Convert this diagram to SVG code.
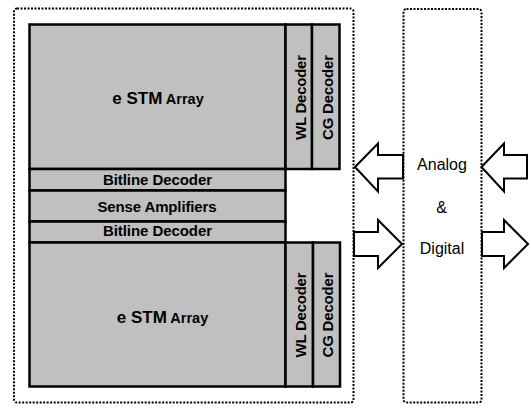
<svg xmlns="http://www.w3.org/2000/svg" width="531" height="408" viewBox="0 0 531 408">
<style>
.blk{fill:#c0c0c0;stroke:#000;stroke-width:2.5}
.dot{fill:none;stroke:#000;stroke-width:2;stroke-dasharray:2 1.5}
.arr{fill:#fff;stroke:#000;stroke-width:2;stroke-linejoin:miter}
.b{font-family:"Liberation Sans",Arial,sans-serif;font-weight:bold;fill:#000}
.r{font-family:"Liberation Sans",Arial,sans-serif;font-size:16px;fill:#000;text-anchor:middle}
</style>
<rect x="0" y="0" width="531" height="408" fill="#fff"/>
<g id="memory-block">
  <rect class="dot" x="14" y="8.5" width="339.5" height="394" rx="3"/>
</g>
<g id="analog-digital">
  <rect class="dot" x="403.5" y="9" width="78" height="393.5" rx="3"/>
  <text class="r" x="442" y="170">Analog</text>
  <text class="r" x="441.5" y="213">&amp;</text>
  <text class="r" x="442" y="253.5">Digital</text>
</g>
<g id="array-top">
  <rect class="blk" x="29.5" y="24.5" width="256" height="144.5"/>
  <text class="b" x="158" y="104" text-anchor="middle"><tspan font-size="17">e STM</tspan><tspan font-size="14.5"> Array</tspan></text>
</g>
<g id="wl-decoder-top">
  <rect class="blk" x="285.5" y="24.5" width="26.5" height="144.5"/>
  <text class="b" font-size="15" text-anchor="middle" transform="translate(305.5 97.5) rotate(-90)" textLength="85">WL Decoder</text>
</g>
<g id="cg-decoder-top">
  <rect class="blk" x="312" y="24.5" width="27.5" height="144.5"/>
  <text class="b" font-size="15" text-anchor="middle" transform="translate(332.5 97.5) rotate(-90)" textLength="85">CG Decoder</text>
</g>
<g id="bitline-decoder-top">
  <rect class="blk" x="29.5" y="169" width="256" height="21.5"/>
  <text class="b" font-size="15" x="157.5" y="185" text-anchor="middle" textLength="109">Bitline Decoder</text>
</g>
<g id="sense-amplifiers">
  <rect class="blk" x="29.5" y="190.5" width="256" height="31"/>
  <text class="b" font-size="15" x="157" y="211.5" text-anchor="middle" textLength="119">Sense Amplifiers</text>
</g>
<g id="bitline-decoder-bottom">
  <rect class="blk" x="29.5" y="221.5" width="256" height="21"/>
  <text class="b" font-size="15" x="157.5" y="236" text-anchor="middle" textLength="109">Bitline Decoder</text>
</g>
<g id="array-bottom">
  <rect class="blk" x="29.5" y="242.5" width="256" height="144"/>
  <text class="b" x="162.5" y="323" text-anchor="middle"><tspan font-size="17">e STM</tspan><tspan font-size="14.5"> Array</tspan></text>
</g>
<g id="wl-decoder-bottom">
  <rect class="blk" x="285.5" y="242.5" width="27.5" height="144"/>
  <text class="b" font-size="15" text-anchor="middle" transform="translate(305.5 315) rotate(-90)" textLength="85">WL Decoder</text>
</g>
<g id="cg-decoder-bottom">
  <rect class="blk" x="313" y="242.5" width="27" height="144"/>
  <text class="b" font-size="15" text-anchor="middle" transform="translate(333 315) rotate(-90)" textLength="85">CG Decoder</text>
</g>
<g id="connectors">
  <polygon class="arr" points="355,167 378,143.5 378,155 403,155 403,178.5 378,178.5 378,191.5"/>
  <polygon class="arr" points="354,232 378,232 378,220 402,244 378,268 378,256 354,256"/>
  <polygon class="arr" points="481.5,167 504,143.5 504,155 527,155 527,178.5 504,178.5 504,191.5"/>
  <polygon class="arr" points="482,232 504,232 504,220 528,244 504,268 504,256 482,256"/>
</g>
</svg>
